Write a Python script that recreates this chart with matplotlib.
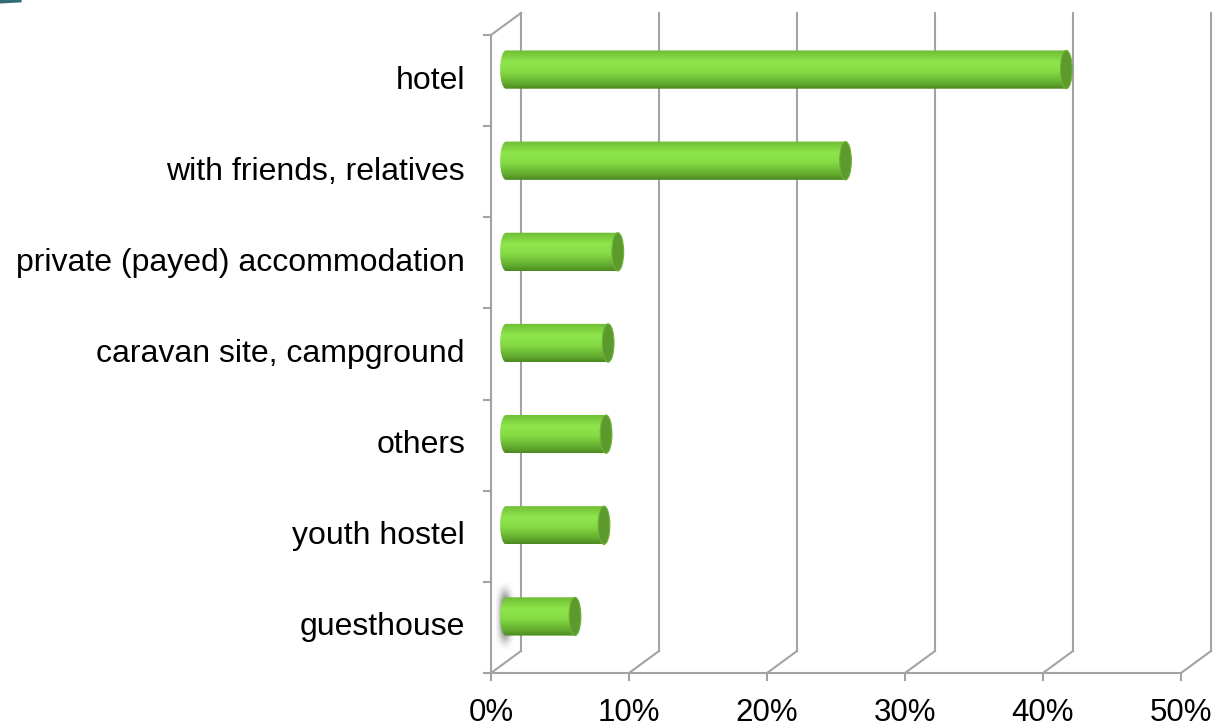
import numpy as np
import matplotlib.pyplot as plt
from matplotlib.transforms import ScaledTranslation
from matplotlib.patches import Ellipse, Polygon
from matplotlib.colors import LinearSegmentedColormap
from matplotlib.lines import Line2D

plt.rcParams['font.family'] = ['Liberation Sans', 'DejaVu Sans']

categories = ['hotel', 'with friends, relatives', 'private (payed) accommodation',
              'caravan site, campground', 'others', 'youth hostel', 'guesthouse']
shares = [40.6, 24.6, 8.1, 7.4, 7.25, 7.1, 5.0]  # %
xticks = [0, 10, 20, 30, 40, 50]

grid_col = '#a3a3a3'
depth = (0.30, 0.22)  # depth offset of the back wall, inches
bar_h = 0.42
cap_w = 0.85  # width of the cylinder end, in %

fig = plt.figure(figsize=(12.18, 7.28), dpi=100)
W, H = 1218, 728
ax = fig.add_axes([491 / W, 55 / H, 690 / W, 638 / H])
ax.axis('off')
n = len(categories)
ytop, ybot = -0.5, n - 0.5
ax.set_xlim(0, 50)
ax.set_ylim(ybot, ytop)

back = ax.transData + ScaledTranslation(depth[0], depth[1], fig.dpi_scale_trans)
mid = ax.transData + ScaledTranslation(depth[0] / 2, depth[1] / 2, fig.dpi_scale_trans)


def seg(p0, p1):
    # straight line between two display points, in figure pixels
    fig.add_artist(Line2D([p0[0] / W, p1[0] / W], [p0[1] / H, p1[1] / H],
                          color=grid_col, lw=1.5, zorder=1))


# back wall gridlines and floor diagonals
for x in xticks:
    ax.plot([x, x], [ytop, ybot], color=grid_col, lw=1.5, transform=back, clip_on=False, zorder=1)
    seg(ax.transData.transform((x, ybot)), back.transform((x, ybot)))
    pa = ax.transData.transform((x, ybot))
    seg(pa, (pa[0], pa[1] - 7))

# top edge of the left wall
seg(ax.transData.transform((0, ytop)), back.transform((0, ytop)))

# front axis lines
ax.plot([0, 50], [ybot, ybot], color=grid_col, lw=1.5, clip_on=False, zorder=1)
ax.plot([0, 0], [ytop, ybot], color=grid_col, lw=1.5, clip_on=False, zorder=1)
for b in np.arange(ytop, ybot + 0.01, 1.0):
    pa = ax.transData.transform((0, b))
    seg(pa, (pa[0] - 7, pa[1]))

# tick labels
lab_t = ax.transData + ScaledTranslation(0, -0.48, fig.dpi_scale_trans)
for x in xticks:
    ax.text(x, ybot, f'{x}%', ha='center', va='baseline', fontsize=22.5,
            transform=lab_t, clip_on=False)
cat_t = ax.transData + ScaledTranslation(-0.26, 0, fig.dpi_scale_trans)
for i, c in enumerate(categories):
    ax.text(0, i, c, ha='right', va='center', fontsize=23, transform=cat_t, clip_on=False)

# soft shadow at the base of the last bar
gx, gy = np.meshgrid(np.linspace(-1, 1, 60), np.linspace(-1, 1, 60))
shadow = np.zeros((60, 60, 4))
shadow[..., :3] = 0.4
shadow[..., 3] = 0.85 * np.exp(-(gx ** 2) * 2.5 - (gy ** 4) * 3)
ax.imshow(shadow, extent=(-0.75, 0.55, n - 1 + 0.36, n - 1 - 0.36), transform=mid,
          aspect='auto', interpolation='bilinear', zorder=2)

# cylinder bars
body_cmap = LinearSegmentedColormap.from_list(
    'body', [(0, '#6dbd34'), (0.3, '#8fe54c'), (0.55, '#86dc45'),
             (0.85, '#64ad30'), (1, '#4b8a22')])
grad = np.linspace(0, 1, 64).reshape(-1, 1)
for i, v in enumerate(shares):
    y0, y1 = i - bar_h / 2, i + bar_h / 2
    t = np.linspace(np.pi / 2, 3 * np.pi / 2, 40)
    pts = [(cap_w / 2 * np.cos(tt), i - bar_h / 2 * np.sin(tt)) for tt in t]
    pts += [(v, y1), (v, y0)]
    clip = Polygon(pts, closed=True, transform=mid)
    im = ax.imshow(grad, cmap=body_cmap, extent=(-cap_w / 2, v, y1, y0), transform=mid,
                   aspect='auto', interpolation='bilinear', zorder=3)
    im.set_clip_path(clip)
    ax.add_patch(Ellipse((v, i), cap_w, bar_h, facecolor='#5d9a2d', edgecolor='#6fb238',
                         lw=0.8, transform=mid, zorder=4, clip_on=False))

# corner ornament
fig.add_artist(Line2D([0, 0.016], [0.998, 0.9995], color='#1d5c6b', lw=3, alpha=0.9))

ax.set_xlim(0, 50)
ax.set_ylim(ybot, ytop)

fig.savefig('out.png', dpi=100)
